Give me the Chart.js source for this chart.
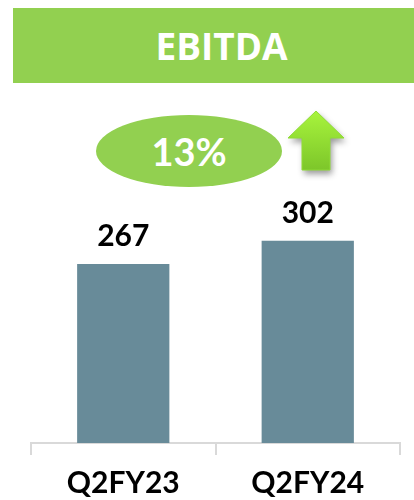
<!DOCTYPE html>
<html>
<head>
<meta charset="utf-8">
<script src="https://cdn.jsdelivr.net/npm/chart.js@4/dist/chart.umd.min.js"></script>
<style>
  html, body { margin: 0; padding: 0; background: #ffffff; width: 414px; height: 500px; overflow: hidden; }
  #wrap { position: relative; width: 414px; height: 500px; }
  #chart { position: absolute; left: 0; top: 0; }
  #titleBar { position: absolute; left: 13px; top: 8px; width: 401px; height: 75px; background: #92D050;
    color: #ffffff; font-family: "Open Sans", sans-serif; font-weight: 700; font-size: 37px;
    line-height: 75px; text-align: center; padding-left: 16px; box-sizing: border-box; }
  #growth { position: absolute; left: 96px; top: 115px; width: 186px; height: 72px; border-radius: 50%;
    background: #92D050; color: #ffffff; font-family: Lato, sans-serif; font-weight: 700; font-size: 38px;
    line-height: 72px; text-align: center; }
</style>
</head>
<body>
<div id="wrap">
  <canvas id="chart" width="414" height="500"></canvas>
  <div id="titleBar"></div>
  <div id="growth"></div>
</div>
<script>
const chartTitle = 'EBITDA';
const categories = ['Q2FY23', 'Q2FY24'];
const ebitdaValues = [267, 302];
const growthLabel = '13%';

document.getElementById('titleBar').textContent = chartTitle;
document.getElementById('growth').textContent = growthLabel;

const valueLabelPlugin = {
  id: 'valueLabels',
  afterDatasetsDraw(chart) {
    const ctx = chart.ctx;
    const meta = chart.getDatasetMeta(0);
    ctx.save();
    ctx.font = '700 30px Lato, sans-serif';
    ctx.fillStyle = '#000000';
    ctx.textAlign = 'center';
    ctx.textBaseline = 'alphabetic';
    meta.data.forEach((bar, i) => {
      ctx.fillText(String(chart.data.datasets[0].data[i]), bar.x, bar.y - 18);
    });
    ctx.restore();
  }
};

const arrowPlugin = {
  id: 'upArrow',
  afterDraw(chart) {
    const ctx = chart.ctx;
    ctx.save();
    const tipX = 316, tipY = 111, headY = 138, headL = 288, headR = 344, shaftL = 302, shaftR = 330, bottom = 170;
    ctx.beginPath();
    ctx.moveTo(tipX, tipY);
    ctx.lineTo(headR, headY);
    ctx.lineTo(shaftR, headY);
    ctx.lineTo(shaftR, bottom);
    ctx.lineTo(shaftL, bottom);
    ctx.lineTo(shaftL, headY);
    ctx.lineTo(headL, headY);
    ctx.closePath();
    const g = ctx.createLinearGradient(0, tipY, 0, bottom);
    g.addColorStop(0, '#A8F43C');
    g.addColorStop(1, '#7DC62A');
    ctx.shadowColor = 'rgba(0,0,0,0.4)';
    ctx.shadowBlur = 6;
    ctx.shadowOffsetX = 2;
    ctx.shadowOffsetY = 4;
    ctx.fillStyle = g;
    ctx.fill();
    ctx.shadowColor = 'transparent';
    ctx.strokeStyle = '#8FDB36';
    ctx.lineWidth = 1;
    ctx.stroke();
    ctx.restore();
  }
};

new Chart(document.getElementById('chart'), {
  type: 'bar',
  data: {
    labels: categories,
    datasets: [{
      data: ebitdaValues,
      backgroundColor: '#688B99',
      borderWidth: 0,
      barPercentage: 0.5,
      categoryPercentage: 1.0
    }]
  },
  options: {
    responsive: false,
    animation: false,
    devicePixelRatio: 1,
    layout: { padding: { top: 175, left: 31, right: 14, bottom: -11 } },
    plugins: { legend: { display: false }, tooltip: { enabled: false }, title: { display: false } },
    scales: {
      y: { display: false, min: 0, max: 400 },
      x: {
        grid: { display: true, drawOnChartArea: false, drawTicks: true, tickLength: 12, color: '#D9D9D9', lineWidth: 2, offset: true },
        border: { display: true, color: '#D9D9D9', width: 2 },
        ticks: { color: '#000000', font: { family: 'Lato', weight: '700', size: 30 }, padding: 10 }
      }
    }
  },
  plugins: [valueLabelPlugin, arrowPlugin]
});
</script>
</body>
</html>
